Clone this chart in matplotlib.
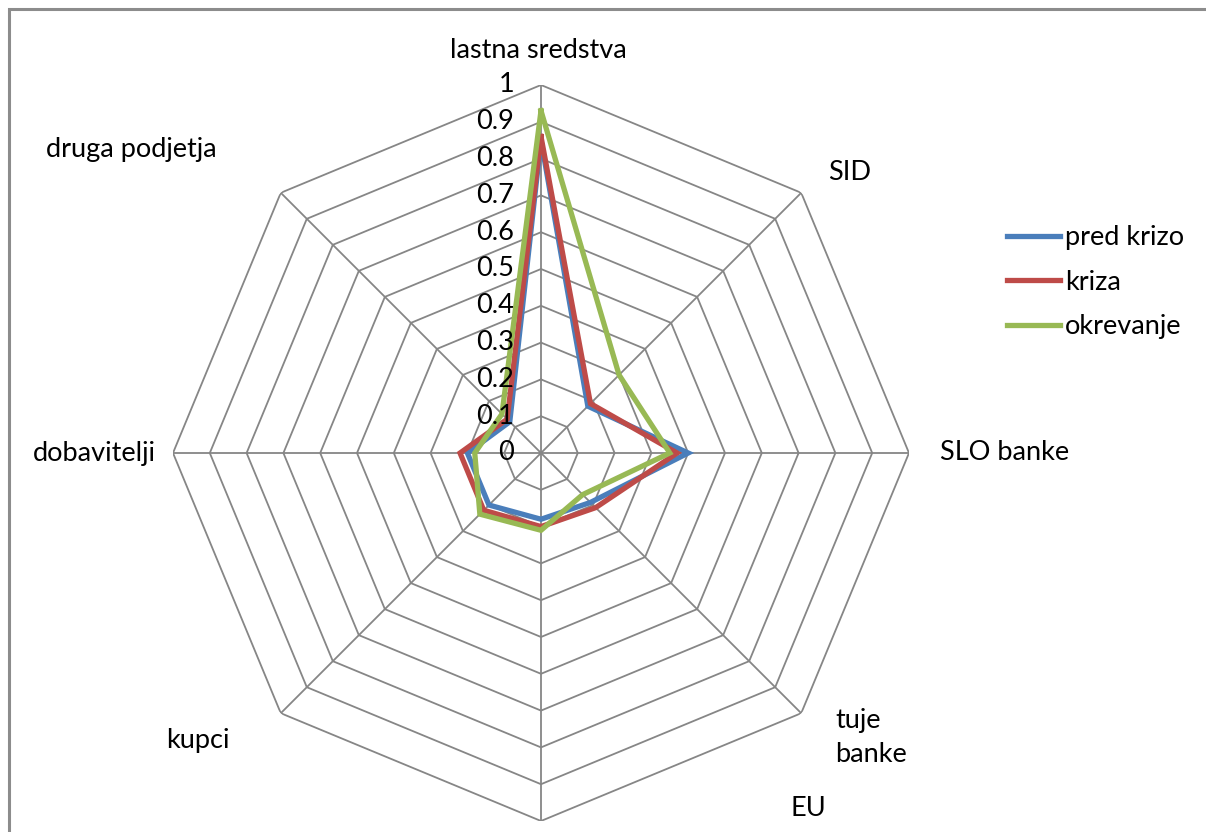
import numpy as np
import matplotlib
matplotlib.use("Agg")
import matplotlib.pyplot as plt
from matplotlib.patches import Rectangle

plt.rcParams['font.family'] = ['Lato', 'DejaVu Sans']

categories = ['lastna sredstva', 'SID', 'SLO banke', 'tuje\nbanke', 'EU',
              'kupci', 'dobavitelji', 'druga podjetja']
pred_krizo = [0.85, 0.18, 0.40, 0.19, 0.18, 0.20, 0.20, 0.12]
kriza = [0.86, 0.19, 0.37, 0.21, 0.20, 0.22, 0.22, 0.13]
okrevanje = [0.93, 0.30, 0.35, 0.16, 0.21, 0.235, 0.18, 0.15]
series_names = ['pred krizo', 'kriza', 'okrevanje']
r_ticks = [0, 0.1, 0.2, 0.3, 0.4, 0.5, 0.6, 0.7, 0.8, 0.9, 1]

colors = ['#4a7ebb', '#be4b48', '#98b954']
grid_color = '#868686'
FS = 19.5

fig = plt.figure(figsize=(12.06, 8.32), dpi=100)
# gray chart border (only top and left edges fall inside the image)
fig.patches.append(Rectangle((9 / 1206, -0.2), 1.2, 1.2 - 9 / 832,
                             transform=fig.transFigure, fill=False,
                             edgecolor='#8c8c8c', linewidth=2.2))

cx, cy, R = 541, 453, 368
ax = fig.add_axes([(cx - R) / 1206, (832 - cy - R) / 832, 2 * R / 1206, 2 * R / 832],
                  projection='polar')
ax.set_theta_zero_location('N')
ax.set_theta_direction(-1)
ax.set_ylim(0, 1)
ax.grid(False)
ax.spines['polar'].set_visible(False)
ax.set_xticks([])
ax.set_yticks([])
ax.patch.set_alpha(0)

n = len(categories)
theta = np.arange(n) * 2 * np.pi / n
theta_closed = np.append(theta, theta[0])

# polygon grid and spokes
for r in r_ticks[1:]:
    ax.plot(theta_closed, [r] * (n + 1), color=grid_color, lw=1.3, zorder=1)
for t in theta:
    ax.plot([t, t], [0, 1], color=grid_color, lw=1.3, zorder=1)

# radial tick labels along the top spoke
for r in r_ticks:
    ax.annotate(f'{r:g}', xy=(0, r), xytext=(-27, 0), textcoords='offset pixels',
                ha='right', va='center', fontsize=FS, zorder=5)

# category labels: (offset x, offset y, ha, va)
label_offsets = [
    (-3, 35, 'center', 'center'),
    (48, 20, 'center', 'center'),
    (31, 0, 'left', 'center'),
    (34, -24, 'left', 'center'),
    (267, 13, 'center', 'center'),
    (-51, -27, 'right', 'center'),
    (-17, 0, 'right', 'center'),
    (-149, 43, 'center', 'center'),
]
for t, lab, (dx, dy, ha, va) in zip(theta, categories, label_offsets):
    ax.annotate(lab, xy=(t, 1), xytext=(dx, dy), textcoords='offset pixels',
                ha=ha, va=va, fontsize=FS, linespacing=1.45, annotation_clip=False)

lines = []
for vals, c, name in zip([pred_krizo, kriza, okrevanje], colors, series_names):
    ln, = ax.plot(theta_closed, vals + vals[:1], color=c, lw=3.8, label=name,
                  solid_joinstyle='miter', zorder=3)
    lines.append(ln)

fig.legend(handles=lines, loc='center left', bbox_to_anchor=(1007 / 1206, 1 - 282 / 832),
           frameon=False, fontsize=FS, handlelength=1.95, handletextpad=0.18,
           labelspacing=0.72, borderaxespad=0, borderpad=0)

fig.savefig('out.png', dpi=100)
